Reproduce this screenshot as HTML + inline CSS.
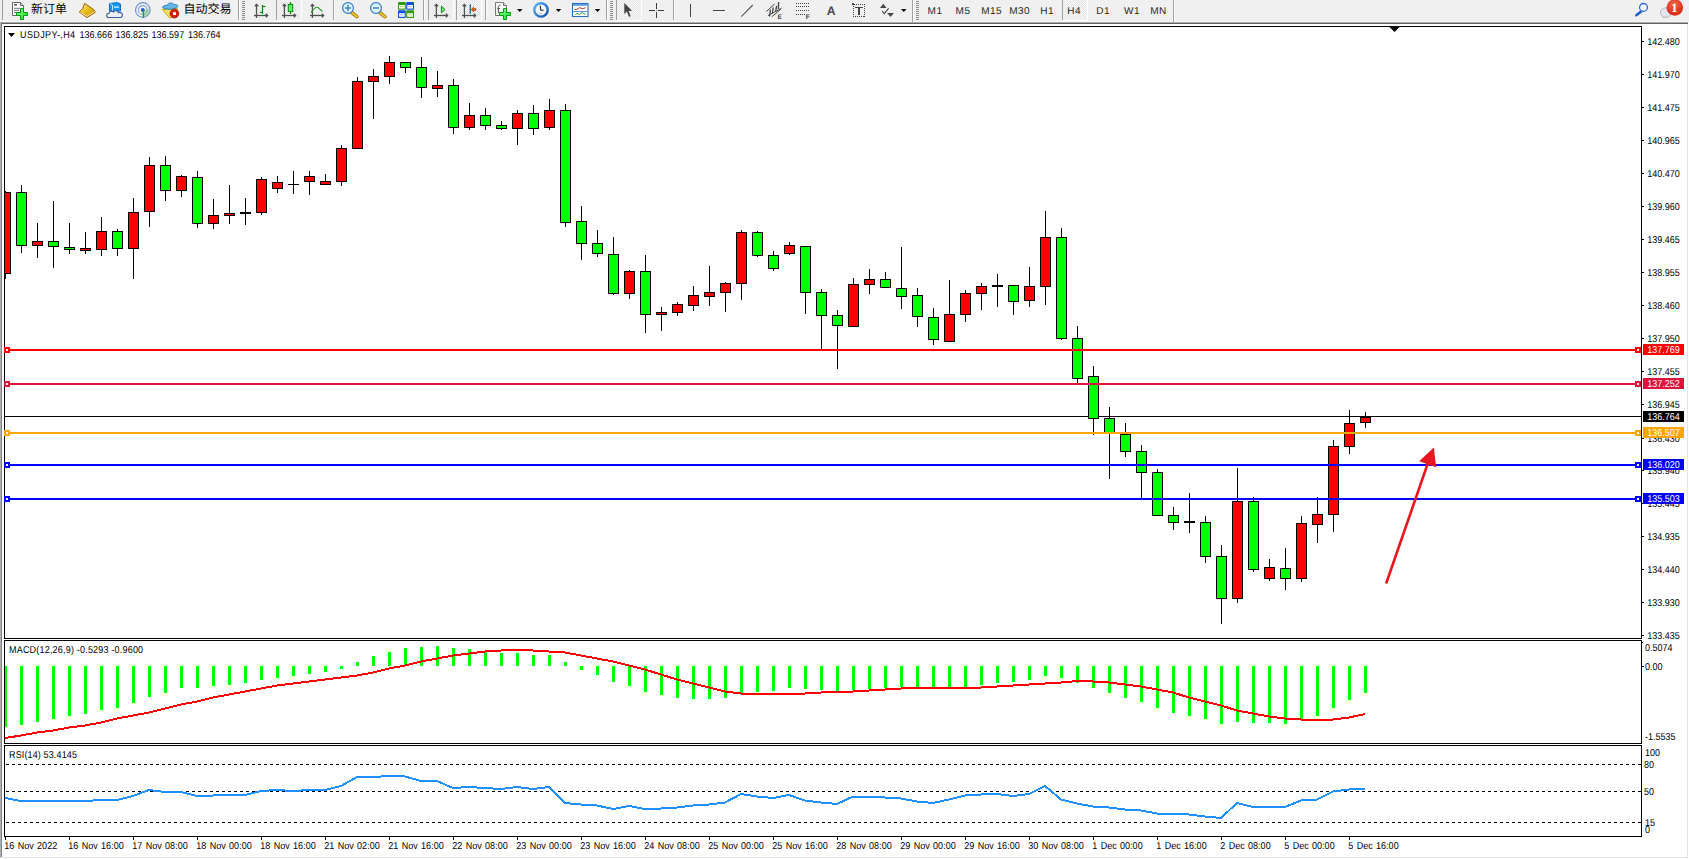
<!DOCTYPE html>
<html><head><meta charset="utf-8"><title>USDJPY-,H4</title>
<style>
html,body{margin:0;padding:0;background:#f0f0f0;width:1689px;height:859px;overflow:hidden}
svg{display:block}
text{white-space:pre;text-rendering:geometricPrecision}
</style></head>
<body>
<svg width="1689" height="859" viewBox="0 0 1689 859">
<rect x="0" y="0" width="1689" height="859" fill="#f0f0f0"/>
<rect x="0" y="21" width="1688" height="1" fill="#f5f5f5"/>
<rect x="0" y="22" width="1688" height="1" fill="#ababab"/>
<rect x="0" y="23" width="1688" height="1" fill="#646464"/>
<rect x="2" y="24" width="1685" height="833" fill="#ffffff"/>
<rect x="0" y="22" width="1" height="836" fill="#b0b0b0"/>
<rect x="1" y="22" width="1" height="836" fill="#828282"/>
<rect x="1687" y="24" width="1" height="834" fill="#e3e3e3"/>
<rect x="0" y="857" width="1688" height="1" fill="#e3e3e3"/>
<rect x="0" y="858" width="1689" height="1" fill="#ffffff"/>
<rect x="1688" y="22" width="1" height="837" fill="#ffffff"/>
<rect x="4" y="26" width="1638" height="1" fill="#000"/>
<rect x="4" y="638" width="1638" height="1" fill="#000"/>
<rect x="4" y="26" width="1" height="613" fill="#000"/>
<rect x="1641" y="26" width="1" height="613" fill="#000"/>
<rect x="4" y="640" width="1638" height="1" fill="#000"/>
<rect x="4" y="743" width="1638" height="1" fill="#000"/>
<rect x="4" y="640" width="1" height="104" fill="#000"/>
<rect x="1641" y="640" width="1" height="104" fill="#000"/>
<rect x="4" y="745" width="1638" height="1" fill="#000"/>
<rect x="4" y="836" width="1638" height="1" fill="#000"/>
<rect x="4" y="745" width="1" height="92" fill="#000"/>
<rect x="1641" y="745" width="1" height="92" fill="#000"/>
<defs><clipPath id="cm"><rect x="5" y="27" width="1636" height="611"/></clipPath><clipPath id="cmacd"><rect x="5" y="641" width="1636" height="102"/></clipPath><clipPath id="crsi"><rect x="5" y="746" width="1636" height="90"/></clipPath></defs>
<g clip-path="url(#cm)" shape-rendering="crispEdges">
<rect x="5" y="416" width="1636" height="1" fill="#000"/>
<rect x="5" y="191" width="1" height="88" fill="#000"/>
<rect x="0" y="192" width="11" height="82" fill="#000"/>
<rect x="1" y="193" width="9" height="80" fill="#ff0000"/>
<rect x="21" y="185" width="1" height="68" fill="#000"/>
<rect x="16" y="192" width="11" height="54" fill="#000"/>
<rect x="17" y="193" width="9" height="52" fill="#00ff00"/>
<rect x="37" y="223" width="1" height="35" fill="#000"/>
<rect x="32" y="241" width="11" height="5" fill="#000"/>
<rect x="33" y="242" width="9" height="3" fill="#ff0000"/>
<rect x="53" y="201" width="1" height="67" fill="#000"/>
<rect x="48" y="241" width="11" height="6" fill="#000"/>
<rect x="49" y="242" width="9" height="4" fill="#00ff00"/>
<rect x="69" y="223" width="1" height="31" fill="#000"/>
<rect x="64" y="247" width="11" height="3" fill="#000"/>
<rect x="65" y="248" width="9" height="1" fill="#00ff00"/>
<rect x="85" y="232" width="1" height="22" fill="#000"/>
<rect x="80" y="248" width="11" height="3" fill="#000"/>
<rect x="81" y="249" width="9" height="1" fill="#ff0000"/>
<rect x="101" y="217" width="1" height="39" fill="#000"/>
<rect x="96" y="231" width="11" height="19" fill="#000"/>
<rect x="97" y="232" width="9" height="17" fill="#ff0000"/>
<rect x="117" y="229" width="1" height="27" fill="#000"/>
<rect x="112" y="231" width="11" height="18" fill="#000"/>
<rect x="113" y="232" width="9" height="16" fill="#00ff00"/>
<rect x="133" y="198" width="1" height="81" fill="#000"/>
<rect x="128" y="212" width="11" height="37" fill="#000"/>
<rect x="129" y="213" width="9" height="35" fill="#ff0000"/>
<rect x="149" y="157" width="1" height="70" fill="#000"/>
<rect x="144" y="165" width="11" height="47" fill="#000"/>
<rect x="145" y="166" width="9" height="45" fill="#ff0000"/>
<rect x="165" y="156" width="1" height="45" fill="#000"/>
<rect x="160" y="165" width="11" height="26" fill="#000"/>
<rect x="161" y="166" width="9" height="24" fill="#00ff00"/>
<rect x="181" y="175" width="1" height="22" fill="#000"/>
<rect x="176" y="176" width="11" height="15" fill="#000"/>
<rect x="177" y="177" width="9" height="13" fill="#ff0000"/>
<rect x="197" y="171" width="1" height="57" fill="#000"/>
<rect x="192" y="177" width="11" height="47" fill="#000"/>
<rect x="193" y="178" width="9" height="45" fill="#00ff00"/>
<rect x="213" y="199" width="1" height="30" fill="#000"/>
<rect x="208" y="215" width="11" height="9" fill="#000"/>
<rect x="209" y="216" width="9" height="7" fill="#ff0000"/>
<rect x="229" y="185" width="1" height="39" fill="#000"/>
<rect x="224" y="213" width="11" height="3" fill="#000"/>
<rect x="225" y="214" width="9" height="1" fill="#ff0000"/>
<rect x="245" y="198" width="1" height="27" fill="#000"/>
<rect x="240" y="212" width="11" height="2" fill="#000"/>
<rect x="261" y="177" width="1" height="38" fill="#000"/>
<rect x="256" y="179" width="11" height="34" fill="#000"/>
<rect x="257" y="180" width="9" height="32" fill="#ff0000"/>
<rect x="277" y="176" width="1" height="17" fill="#000"/>
<rect x="272" y="182" width="11" height="7" fill="#000"/>
<rect x="273" y="183" width="9" height="5" fill="#ff0000"/>
<rect x="293" y="171" width="1" height="23" fill="#000"/>
<rect x="288" y="184" width="11" height="1" fill="#000"/>
<rect x="309" y="171" width="1" height="24" fill="#000"/>
<rect x="304" y="176" width="11" height="6" fill="#000"/>
<rect x="305" y="177" width="9" height="4" fill="#ff0000"/>
<rect x="325" y="174" width="1" height="10" fill="#000"/>
<rect x="320" y="181" width="11" height="4" fill="#000"/>
<rect x="321" y="182" width="9" height="2" fill="#ff0000"/>
<rect x="341" y="145" width="1" height="41" fill="#000"/>
<rect x="336" y="148" width="11" height="34" fill="#000"/>
<rect x="337" y="149" width="9" height="32" fill="#ff0000"/>
<rect x="357" y="77" width="1" height="71" fill="#000"/>
<rect x="352" y="81" width="11" height="68" fill="#000"/>
<rect x="353" y="82" width="9" height="66" fill="#ff0000"/>
<rect x="373" y="69" width="1" height="50" fill="#000"/>
<rect x="368" y="76" width="11" height="6" fill="#000"/>
<rect x="369" y="77" width="9" height="4" fill="#ff0000"/>
<rect x="389" y="56" width="1" height="28" fill="#000"/>
<rect x="384" y="62" width="11" height="15" fill="#000"/>
<rect x="385" y="63" width="9" height="13" fill="#ff0000"/>
<rect x="405" y="62" width="1" height="11" fill="#000"/>
<rect x="400" y="62" width="11" height="6" fill="#000"/>
<rect x="401" y="63" width="9" height="4" fill="#00ff00"/>
<rect x="421" y="57" width="1" height="41" fill="#000"/>
<rect x="416" y="67" width="11" height="21" fill="#000"/>
<rect x="417" y="68" width="9" height="19" fill="#00ff00"/>
<rect x="437" y="71" width="1" height="26" fill="#000"/>
<rect x="432" y="85" width="11" height="4" fill="#000"/>
<rect x="433" y="86" width="9" height="2" fill="#ff0000"/>
<rect x="453" y="79" width="1" height="55" fill="#000"/>
<rect x="448" y="85" width="11" height="43" fill="#000"/>
<rect x="449" y="86" width="9" height="41" fill="#00ff00"/>
<rect x="469" y="103" width="1" height="27" fill="#000"/>
<rect x="464" y="115" width="11" height="13" fill="#000"/>
<rect x="465" y="116" width="9" height="11" fill="#ff0000"/>
<rect x="485" y="108" width="1" height="22" fill="#000"/>
<rect x="480" y="115" width="11" height="11" fill="#000"/>
<rect x="481" y="116" width="9" height="9" fill="#00ff00"/>
<rect x="501" y="121" width="1" height="9" fill="#000"/>
<rect x="496" y="125" width="11" height="4" fill="#000"/>
<rect x="497" y="126" width="9" height="2" fill="#00ff00"/>
<rect x="517" y="110" width="1" height="35" fill="#000"/>
<rect x="512" y="113" width="11" height="16" fill="#000"/>
<rect x="513" y="114" width="9" height="14" fill="#ff0000"/>
<rect x="533" y="105" width="1" height="30" fill="#000"/>
<rect x="528" y="113" width="11" height="16" fill="#000"/>
<rect x="529" y="114" width="9" height="14" fill="#00ff00"/>
<rect x="549" y="99" width="1" height="31" fill="#000"/>
<rect x="544" y="110" width="11" height="18" fill="#000"/>
<rect x="545" y="111" width="9" height="16" fill="#ff0000"/>
<rect x="565" y="104" width="1" height="123" fill="#000"/>
<rect x="560" y="110" width="11" height="113" fill="#000"/>
<rect x="561" y="111" width="9" height="111" fill="#00ff00"/>
<rect x="581" y="206" width="1" height="54" fill="#000"/>
<rect x="576" y="221" width="11" height="23" fill="#000"/>
<rect x="577" y="222" width="9" height="21" fill="#00ff00"/>
<rect x="597" y="230" width="1" height="27" fill="#000"/>
<rect x="592" y="243" width="11" height="11" fill="#000"/>
<rect x="593" y="244" width="9" height="9" fill="#00ff00"/>
<rect x="613" y="237" width="1" height="58" fill="#000"/>
<rect x="608" y="254" width="11" height="40" fill="#000"/>
<rect x="609" y="255" width="9" height="38" fill="#00ff00"/>
<rect x="629" y="270" width="1" height="29" fill="#000"/>
<rect x="624" y="271" width="11" height="23" fill="#000"/>
<rect x="625" y="272" width="9" height="21" fill="#ff0000"/>
<rect x="645" y="255" width="1" height="78" fill="#000"/>
<rect x="640" y="271" width="11" height="44" fill="#000"/>
<rect x="641" y="272" width="9" height="42" fill="#00ff00"/>
<rect x="661" y="307" width="1" height="24" fill="#000"/>
<rect x="656" y="312" width="11" height="3" fill="#000"/>
<rect x="657" y="313" width="9" height="1" fill="#ff0000"/>
<rect x="677" y="302" width="1" height="14" fill="#000"/>
<rect x="672" y="304" width="11" height="9" fill="#000"/>
<rect x="673" y="305" width="9" height="7" fill="#ff0000"/>
<rect x="693" y="286" width="1" height="25" fill="#000"/>
<rect x="688" y="295" width="11" height="11" fill="#000"/>
<rect x="689" y="296" width="9" height="9" fill="#ff0000"/>
<rect x="709" y="266" width="1" height="40" fill="#000"/>
<rect x="704" y="292" width="11" height="5" fill="#000"/>
<rect x="705" y="293" width="9" height="3" fill="#ff0000"/>
<rect x="725" y="282" width="1" height="30" fill="#000"/>
<rect x="720" y="283" width="11" height="10" fill="#000"/>
<rect x="721" y="284" width="9" height="8" fill="#ff0000"/>
<rect x="741" y="230" width="1" height="70" fill="#000"/>
<rect x="736" y="232" width="11" height="52" fill="#000"/>
<rect x="737" y="233" width="9" height="50" fill="#ff0000"/>
<rect x="757" y="231" width="1" height="26" fill="#000"/>
<rect x="752" y="232" width="11" height="24" fill="#000"/>
<rect x="753" y="233" width="9" height="22" fill="#00ff00"/>
<rect x="773" y="251" width="1" height="20" fill="#000"/>
<rect x="768" y="255" width="11" height="14" fill="#000"/>
<rect x="769" y="256" width="9" height="12" fill="#00ff00"/>
<rect x="789" y="242" width="1" height="13" fill="#000"/>
<rect x="784" y="245" width="11" height="9" fill="#000"/>
<rect x="785" y="246" width="9" height="7" fill="#ff0000"/>
<rect x="805" y="246" width="1" height="68" fill="#000"/>
<rect x="800" y="246" width="11" height="47" fill="#000"/>
<rect x="801" y="247" width="9" height="45" fill="#00ff00"/>
<rect x="821" y="289" width="1" height="60" fill="#000"/>
<rect x="816" y="292" width="11" height="24" fill="#000"/>
<rect x="817" y="293" width="9" height="22" fill="#00ff00"/>
<rect x="837" y="310" width="1" height="59" fill="#000"/>
<rect x="832" y="315" width="11" height="11" fill="#000"/>
<rect x="833" y="316" width="9" height="9" fill="#00ff00"/>
<rect x="853" y="278" width="1" height="49" fill="#000"/>
<rect x="848" y="284" width="11" height="43" fill="#000"/>
<rect x="849" y="285" width="9" height="41" fill="#ff0000"/>
<rect x="869" y="269" width="1" height="25" fill="#000"/>
<rect x="864" y="279" width="11" height="6" fill="#000"/>
<rect x="865" y="280" width="9" height="4" fill="#ff0000"/>
<rect x="885" y="272" width="1" height="15" fill="#000"/>
<rect x="880" y="279" width="11" height="9" fill="#000"/>
<rect x="881" y="280" width="9" height="7" fill="#00ff00"/>
<rect x="901" y="247" width="1" height="62" fill="#000"/>
<rect x="896" y="288" width="11" height="9" fill="#000"/>
<rect x="897" y="289" width="9" height="7" fill="#00ff00"/>
<rect x="917" y="288" width="1" height="39" fill="#000"/>
<rect x="912" y="295" width="11" height="22" fill="#000"/>
<rect x="913" y="296" width="9" height="20" fill="#00ff00"/>
<rect x="933" y="308" width="1" height="37" fill="#000"/>
<rect x="928" y="317" width="11" height="23" fill="#000"/>
<rect x="929" y="318" width="9" height="21" fill="#00ff00"/>
<rect x="949" y="280" width="1" height="61" fill="#000"/>
<rect x="944" y="314" width="11" height="28" fill="#000"/>
<rect x="945" y="315" width="9" height="26" fill="#ff0000"/>
<rect x="965" y="290" width="1" height="32" fill="#000"/>
<rect x="960" y="293" width="11" height="22" fill="#000"/>
<rect x="961" y="294" width="9" height="20" fill="#ff0000"/>
<rect x="981" y="283" width="1" height="27" fill="#000"/>
<rect x="976" y="286" width="11" height="8" fill="#000"/>
<rect x="977" y="287" width="9" height="6" fill="#ff0000"/>
<rect x="997" y="274" width="1" height="33" fill="#000"/>
<rect x="992" y="285" width="11" height="2" fill="#000"/>
<rect x="1013" y="285" width="1" height="30" fill="#000"/>
<rect x="1008" y="285" width="11" height="17" fill="#000"/>
<rect x="1009" y="286" width="9" height="15" fill="#00ff00"/>
<rect x="1029" y="267" width="1" height="40" fill="#000"/>
<rect x="1024" y="286" width="11" height="15" fill="#000"/>
<rect x="1025" y="287" width="9" height="13" fill="#ff0000"/>
<rect x="1045" y="211" width="1" height="94" fill="#000"/>
<rect x="1040" y="237" width="11" height="50" fill="#000"/>
<rect x="1041" y="238" width="9" height="48" fill="#ff0000"/>
<rect x="1061" y="228" width="1" height="112" fill="#000"/>
<rect x="1056" y="237" width="11" height="102" fill="#000"/>
<rect x="1057" y="238" width="9" height="100" fill="#00ff00"/>
<rect x="1077" y="326" width="1" height="57" fill="#000"/>
<rect x="1072" y="338" width="11" height="41" fill="#000"/>
<rect x="1073" y="339" width="9" height="39" fill="#00ff00"/>
<rect x="1093" y="366" width="1" height="69" fill="#000"/>
<rect x="1088" y="376" width="11" height="43" fill="#000"/>
<rect x="1089" y="377" width="9" height="41" fill="#00ff00"/>
<rect x="1109" y="407" width="1" height="72" fill="#000"/>
<rect x="1104" y="418" width="11" height="16" fill="#000"/>
<rect x="1105" y="419" width="9" height="14" fill="#00ff00"/>
<rect x="1125" y="423" width="1" height="34" fill="#000"/>
<rect x="1120" y="434" width="11" height="18" fill="#000"/>
<rect x="1121" y="435" width="9" height="16" fill="#00ff00"/>
<rect x="1141" y="445" width="1" height="53" fill="#000"/>
<rect x="1136" y="451" width="11" height="22" fill="#000"/>
<rect x="1137" y="452" width="9" height="20" fill="#00ff00"/>
<rect x="1157" y="469" width="1" height="47" fill="#000"/>
<rect x="1152" y="472" width="11" height="44" fill="#000"/>
<rect x="1153" y="473" width="9" height="42" fill="#00ff00"/>
<rect x="1173" y="507" width="1" height="23" fill="#000"/>
<rect x="1168" y="515" width="11" height="8" fill="#000"/>
<rect x="1169" y="516" width="9" height="6" fill="#00ff00"/>
<rect x="1189" y="493" width="1" height="40" fill="#000"/>
<rect x="1184" y="521" width="11" height="2" fill="#000"/>
<rect x="1205" y="516" width="1" height="47" fill="#000"/>
<rect x="1200" y="522" width="11" height="35" fill="#000"/>
<rect x="1201" y="523" width="9" height="33" fill="#00ff00"/>
<rect x="1221" y="545" width="1" height="79" fill="#000"/>
<rect x="1216" y="556" width="11" height="43" fill="#000"/>
<rect x="1217" y="557" width="9" height="41" fill="#00ff00"/>
<rect x="1237" y="468" width="1" height="135" fill="#000"/>
<rect x="1232" y="501" width="11" height="98" fill="#000"/>
<rect x="1233" y="502" width="9" height="96" fill="#ff0000"/>
<rect x="1253" y="497" width="1" height="75" fill="#000"/>
<rect x="1248" y="501" width="11" height="69" fill="#000"/>
<rect x="1249" y="502" width="9" height="67" fill="#00ff00"/>
<rect x="1269" y="559" width="1" height="22" fill="#000"/>
<rect x="1264" y="567" width="11" height="12" fill="#000"/>
<rect x="1265" y="568" width="9" height="10" fill="#ff0000"/>
<rect x="1285" y="548" width="1" height="42" fill="#000"/>
<rect x="1280" y="568" width="11" height="11" fill="#000"/>
<rect x="1281" y="569" width="9" height="9" fill="#00ff00"/>
<rect x="1301" y="516" width="1" height="66" fill="#000"/>
<rect x="1296" y="523" width="11" height="56" fill="#000"/>
<rect x="1297" y="524" width="9" height="54" fill="#ff0000"/>
<rect x="1317" y="497" width="1" height="46" fill="#000"/>
<rect x="1312" y="514" width="11" height="11" fill="#000"/>
<rect x="1313" y="515" width="9" height="9" fill="#ff0000"/>
<rect x="1333" y="440" width="1" height="92" fill="#000"/>
<rect x="1328" y="446" width="11" height="69" fill="#000"/>
<rect x="1329" y="447" width="9" height="67" fill="#ff0000"/>
<rect x="1349" y="410" width="1" height="44" fill="#000"/>
<rect x="1344" y="423" width="11" height="24" fill="#000"/>
<rect x="1345" y="424" width="9" height="22" fill="#ff0000"/>
<rect x="1365" y="412" width="1" height="16" fill="#000"/>
<rect x="1360" y="417" width="11" height="6" fill="#000"/>
<rect x="1361" y="418" width="9" height="4" fill="#ff0000"/>
</g>
<g shape-rendering="crispEdges">
<rect x="5" y="349" width="1636" height="2" fill="#ff0000"/>
<rect x="4" y="347" width="6" height="6" fill="#ff0000"/>
<rect x="6" y="349" width="2" height="2" fill="#fff"/>
<rect x="1635" y="347" width="6" height="6" fill="#ff0000"/>
<rect x="1637" y="349" width="2" height="2" fill="#fff"/>
<rect x="5" y="383" width="1636" height="2" fill="#dc143c"/>
<rect x="4" y="381" width="6" height="6" fill="#dc143c"/>
<rect x="6" y="383" width="2" height="2" fill="#fff"/>
<rect x="1635" y="381" width="6" height="6" fill="#dc143c"/>
<rect x="1637" y="383" width="2" height="2" fill="#fff"/>
<rect x="5" y="432" width="1636" height="2" fill="#ffa500"/>
<rect x="4" y="430" width="6" height="6" fill="#ffa500"/>
<rect x="6" y="432" width="2" height="2" fill="#fff"/>
<rect x="1635" y="430" width="6" height="6" fill="#ffa500"/>
<rect x="1637" y="432" width="2" height="2" fill="#fff"/>
<rect x="5" y="464" width="1636" height="2" fill="#0000ff"/>
<rect x="4" y="462" width="6" height="6" fill="#0000ff"/>
<rect x="6" y="464" width="2" height="2" fill="#fff"/>
<rect x="1635" y="462" width="6" height="6" fill="#0000ff"/>
<rect x="1637" y="464" width="2" height="2" fill="#fff"/>
<rect x="5" y="498" width="1636" height="2" fill="#0000ff"/>
<rect x="4" y="496" width="6" height="6" fill="#0000ff"/>
<rect x="6" y="498" width="2" height="2" fill="#fff"/>
<rect x="1635" y="496" width="6" height="6" fill="#0000ff"/>
<rect x="1637" y="498" width="2" height="2" fill="#fff"/>
</g>
<g>
<line x1="1386.5" y1="582.5" x2="1429" y2="460" stroke="#e8161e" stroke-width="2.6" stroke-linecap="round"/>
<polygon points="1433.8,447.5 1419.2,461.2 1436.2,467.2" fill="#e8161e"/>
</g>
<polygon points="1389.5,27 1399.5,27 1394.5,32" fill="#000"/>
<polygon points="8,33 15,33 11.5,37" fill="#000"/>
<g font-family="'Liberation Sans', Arial, sans-serif" font-size="10">
<text transform="matrix(0.9,0,0,1,20,38)" fill="#000" letter-spacing="0.42">USDJPY-,H4</text>
<text transform="matrix(0.9,0,0,1,79.6,38)" fill="#000">136.666</text>
<text transform="matrix(0.9,0,0,1,115.6,38)" fill="#000">136.825</text>
<text transform="matrix(0.9,0,0,1,151.6,38)" fill="#000">136.597</text>
<text transform="matrix(0.9,0,0,1,188,38)" fill="#000">136.764</text>
</g>
<g font-family="'Liberation Sans', Arial, sans-serif" font-size="10" fill="#000">
<rect x="1642" y="41" width="2" height="1" fill="#000"/>
<text transform="matrix(0.9,0,0,1,1647.3,45)" fill="#000">142.480</text>
<rect x="1642" y="74" width="2" height="1" fill="#000"/>
<text transform="matrix(0.9,0,0,1,1647.3,78)" fill="#000">141.970</text>
<rect x="1642" y="107" width="2" height="1" fill="#000"/>
<text transform="matrix(0.9,0,0,1,1647.3,111)" fill="#000">141.475</text>
<rect x="1642" y="140" width="2" height="1" fill="#000"/>
<text transform="matrix(0.9,0,0,1,1647.3,144)" fill="#000">140.965</text>
<rect x="1642" y="173" width="2" height="1" fill="#000"/>
<text transform="matrix(0.9,0,0,1,1647.3,177)" fill="#000">140.470</text>
<rect x="1642" y="206" width="2" height="1" fill="#000"/>
<text transform="matrix(0.9,0,0,1,1647.3,210)" fill="#000">139.960</text>
<rect x="1642" y="239" width="2" height="1" fill="#000"/>
<text transform="matrix(0.9,0,0,1,1647.3,243)" fill="#000">139.465</text>
<rect x="1642" y="272" width="2" height="1" fill="#000"/>
<text transform="matrix(0.9,0,0,1,1647.3,276)" fill="#000">138.955</text>
<rect x="1642" y="305" width="2" height="1" fill="#000"/>
<text transform="matrix(0.9,0,0,1,1647.3,309)" fill="#000">138.460</text>
<rect x="1642" y="338" width="2" height="1" fill="#000"/>
<text transform="matrix(0.9,0,0,1,1647.3,342)" fill="#000">137.950</text>
<rect x="1642" y="371" width="2" height="1" fill="#000"/>
<text transform="matrix(0.9,0,0,1,1647.3,375)" fill="#000">137.455</text>
<rect x="1642" y="404" width="2" height="1" fill="#000"/>
<text transform="matrix(0.9,0,0,1,1647.3,408)" fill="#000">136.945</text>
<rect x="1642" y="438" width="2" height="1" fill="#000"/>
<text transform="matrix(0.9,0,0,1,1647.3,442)" fill="#000">136.430</text>
<rect x="1642" y="470" width="2" height="1" fill="#000"/>
<text transform="matrix(0.9,0,0,1,1647.3,474)" fill="#000">135.940</text>
<rect x="1642" y="503" width="2" height="1" fill="#000"/>
<text transform="matrix(0.9,0,0,1,1647.3,507)" fill="#000">135.445</text>
<rect x="1642" y="536" width="2" height="1" fill="#000"/>
<text transform="matrix(0.9,0,0,1,1647.3,540)" fill="#000">134.935</text>
<rect x="1642" y="569" width="2" height="1" fill="#000"/>
<text transform="matrix(0.9,0,0,1,1647.3,573)" fill="#000">134.440</text>
<rect x="1642" y="602" width="2" height="1" fill="#000"/>
<text transform="matrix(0.9,0,0,1,1647.3,606)" fill="#000">133.930</text>
<rect x="1642" y="635" width="2" height="1" fill="#000"/>
<text transform="matrix(0.9,0,0,1,1647.3,639)" fill="#000">133.435</text>
</g>
<g font-family="'Liberation Sans', Arial, sans-serif" font-size="10" fill="#fff">
<rect x="1643" y="344" width="41" height="11" fill="#ff0000" shape-rendering="crispEdges"/>
<text transform="matrix(0.9,0,0,1,1647.3,353)" fill="#fff">137.769</text>
<rect x="1643" y="378" width="41" height="11" fill="#dc143c" shape-rendering="crispEdges"/>
<text transform="matrix(0.9,0,0,1,1647.3,387)" fill="#fff">137.252</text>
<rect x="1643" y="427" width="41" height="11" fill="#ffa500" shape-rendering="crispEdges"/>
<text transform="matrix(0.9,0,0,1,1647.3,436)" fill="#fff">136.507</text>
<rect x="1643" y="459" width="41" height="11" fill="#0000ff" shape-rendering="crispEdges"/>
<text transform="matrix(0.9,0,0,1,1647.3,468)" fill="#fff">136.020</text>
<rect x="1643" y="493" width="41" height="11" fill="#0000ff" shape-rendering="crispEdges"/>
<text transform="matrix(0.9,0,0,1,1647.3,502)" fill="#fff">135.503</text>
<rect x="1643" y="411" width="41" height="11" fill="#000" shape-rendering="crispEdges"/>
<text transform="matrix(0.9,0,0,1,1647.3,420)" fill="#fff">136.764</text>
</g>
<g clip-path="url(#cmacd)" shape-rendering="crispEdges">
<rect x="4" y="666" width="3" height="61" fill="#00ff00"/>
<rect x="20" y="666" width="3" height="59" fill="#00ff00"/>
<rect x="36" y="666" width="3" height="56" fill="#00ff00"/>
<rect x="52" y="666" width="3" height="53" fill="#00ff00"/>
<rect x="68" y="666" width="3" height="50" fill="#00ff00"/>
<rect x="84" y="666" width="3" height="48" fill="#00ff00"/>
<rect x="100" y="666" width="3" height="44" fill="#00ff00"/>
<rect x="116" y="666" width="3" height="42" fill="#00ff00"/>
<rect x="132" y="666" width="3" height="37" fill="#00ff00"/>
<rect x="148" y="666" width="3" height="31" fill="#00ff00"/>
<rect x="164" y="666" width="3" height="27" fill="#00ff00"/>
<rect x="180" y="666" width="3" height="22" fill="#00ff00"/>
<rect x="196" y="666" width="3" height="22" fill="#00ff00"/>
<rect x="212" y="666" width="3" height="20" fill="#00ff00"/>
<rect x="228" y="666" width="3" height="19" fill="#00ff00"/>
<rect x="244" y="666" width="3" height="17" fill="#00ff00"/>
<rect x="260" y="666" width="3" height="14" fill="#00ff00"/>
<rect x="276" y="666" width="3" height="12" fill="#00ff00"/>
<rect x="292" y="666" width="3" height="10" fill="#00ff00"/>
<rect x="308" y="666" width="3" height="8" fill="#00ff00"/>
<rect x="324" y="666" width="3" height="6" fill="#00ff00"/>
<rect x="340" y="666" width="3" height="3" fill="#00ff00"/>
<rect x="356" y="662" width="3" height="4" fill="#00ff00"/>
<rect x="372" y="656" width="3" height="10" fill="#00ff00"/>
<rect x="388" y="652" width="3" height="14" fill="#00ff00"/>
<rect x="404" y="648" width="3" height="18" fill="#00ff00"/>
<rect x="420" y="647" width="3" height="19" fill="#00ff00"/>
<rect x="436" y="646" width="3" height="20" fill="#00ff00"/>
<rect x="452" y="648" width="3" height="18" fill="#00ff00"/>
<rect x="468" y="649" width="3" height="17" fill="#00ff00"/>
<rect x="484" y="652" width="3" height="14" fill="#00ff00"/>
<rect x="500" y="653" width="3" height="13" fill="#00ff00"/>
<rect x="516" y="653" width="3" height="13" fill="#00ff00"/>
<rect x="532" y="655" width="3" height="11" fill="#00ff00"/>
<rect x="548" y="655" width="3" height="11" fill="#00ff00"/>
<rect x="564" y="662" width="3" height="4" fill="#00ff00"/>
<rect x="580" y="666" width="3" height="4" fill="#00ff00"/>
<rect x="596" y="666" width="3" height="9" fill="#00ff00"/>
<rect x="612" y="666" width="3" height="16" fill="#00ff00"/>
<rect x="628" y="666" width="3" height="20" fill="#00ff00"/>
<rect x="644" y="666" width="3" height="26" fill="#00ff00"/>
<rect x="660" y="666" width="3" height="29" fill="#00ff00"/>
<rect x="676" y="666" width="3" height="32" fill="#00ff00"/>
<rect x="692" y="666" width="3" height="33" fill="#00ff00"/>
<rect x="708" y="666" width="3" height="33" fill="#00ff00"/>
<rect x="724" y="666" width="3" height="32" fill="#00ff00"/>
<rect x="740" y="666" width="3" height="28" fill="#00ff00"/>
<rect x="756" y="666" width="3" height="26" fill="#00ff00"/>
<rect x="772" y="666" width="3" height="25" fill="#00ff00"/>
<rect x="788" y="666" width="3" height="22" fill="#00ff00"/>
<rect x="804" y="666" width="3" height="23" fill="#00ff00"/>
<rect x="820" y="666" width="3" height="24" fill="#00ff00"/>
<rect x="836" y="666" width="3" height="25" fill="#00ff00"/>
<rect x="852" y="666" width="3" height="24" fill="#00ff00"/>
<rect x="868" y="666" width="3" height="23" fill="#00ff00"/>
<rect x="884" y="666" width="3" height="22" fill="#00ff00"/>
<rect x="900" y="666" width="3" height="21" fill="#00ff00"/>
<rect x="916" y="666" width="3" height="21" fill="#00ff00"/>
<rect x="932" y="666" width="3" height="21" fill="#00ff00"/>
<rect x="948" y="666" width="3" height="21" fill="#00ff00"/>
<rect x="964" y="666" width="3" height="21" fill="#00ff00"/>
<rect x="980" y="666" width="3" height="19" fill="#00ff00"/>
<rect x="996" y="666" width="3" height="17" fill="#00ff00"/>
<rect x="1012" y="666" width="3" height="16" fill="#00ff00"/>
<rect x="1028" y="666" width="3" height="14" fill="#00ff00"/>
<rect x="1044" y="666" width="3" height="10" fill="#00ff00"/>
<rect x="1060" y="666" width="3" height="12" fill="#00ff00"/>
<rect x="1076" y="666" width="3" height="17" fill="#00ff00"/>
<rect x="1092" y="666" width="3" height="22" fill="#00ff00"/>
<rect x="1108" y="666" width="3" height="27" fill="#00ff00"/>
<rect x="1124" y="666" width="3" height="32" fill="#00ff00"/>
<rect x="1140" y="666" width="3" height="36" fill="#00ff00"/>
<rect x="1156" y="666" width="3" height="42" fill="#00ff00"/>
<rect x="1172" y="666" width="3" height="47" fill="#00ff00"/>
<rect x="1188" y="666" width="3" height="50" fill="#00ff00"/>
<rect x="1204" y="666" width="3" height="53" fill="#00ff00"/>
<rect x="1220" y="666" width="3" height="58" fill="#00ff00"/>
<rect x="1236" y="666" width="3" height="56" fill="#00ff00"/>
<rect x="1252" y="666" width="3" height="57" fill="#00ff00"/>
<rect x="1268" y="666" width="3" height="57" fill="#00ff00"/>
<rect x="1284" y="666" width="3" height="58" fill="#00ff00"/>
<rect x="1300" y="666" width="3" height="53" fill="#00ff00"/>
<rect x="1316" y="666" width="3" height="50" fill="#00ff00"/>
<rect x="1332" y="666" width="3" height="42" fill="#00ff00"/>
<rect x="1348" y="666" width="3" height="34" fill="#00ff00"/>
<rect x="1364" y="666" width="3" height="27" fill="#00ff00"/>
<polyline points="5,738.0 21,735.5 37,732.5 53,730.5 69,727.5 85,725.5 101,722.5 117,718.5 133,715.5 149,712.5 165,708.5 181,704.5 197,701.5 213,697.5 229,694.5 245,691.5 261,688.5 277,685.5 293,683.5 309,681.5 325,679.5 341,677.5 357,675.5 373,672.5 389,668.5 405,665.5 421,661.5 437,658.5 453,655.5 469,653.5 485,651.5 501,650.5 517,650.0 533,650.5 549,651.5 565,652.5 581,655.5 597,658.5 613,661.5 629,665.5 645,669.5 661,674.5 677,679.5 693,683.5 709,687.5 725,691.5 741,693.5 757,694.0 773,694.0 789,694.0 805,693.5 821,692.5 837,692.0 853,691.5 869,690.5 885,689.5 901,688.5 917,688.0 933,688.0 949,688.0 965,688.0 981,687.5 997,686.5 1013,685.5 1029,684.5 1045,683.5 1061,682.5 1077,681.0 1093,681.5 1109,682.5 1125,684.5 1141,686.5 1157,689.5 1173,692.5 1189,697.5 1205,701.5 1221,705.5 1237,710.5 1253,713.5 1269,716.5 1285,718.5 1301,719.5 1317,720.0 1333,719.5 1349,717.5 1365,714.0" fill="none" stroke="#ff0000" stroke-width="2"/>
</g>
<g font-family="'Liberation Sans', Arial, sans-serif" font-size="10">
<text transform="matrix(0.9,0,0,1,9,653)" fill="#000" letter-spacing="0.22">MACD(12,26,9) -0.5293 -0.9600</text>
</g>
<g font-family="'Liberation Sans', Arial, sans-serif" font-size="10" fill="#000">
<text transform="matrix(0.9,0,0,1,1645,651)" fill="#000">0.5074</text>
<text transform="matrix(0.9,0,0,1,1645,670)" fill="#000">0.00</text>
<text transform="matrix(0.9,0,0,1,1645,740)" fill="#000">-1.5535</text>
<rect x="1642" y="642" width="1" height="1" fill="#000"/>
<rect x="1642" y="666" width="2" height="1" fill="#000"/>
</g>
<g clip-path="url(#crsi)">
<g shape-rendering="crispEdges" stroke="#000" stroke-width="1" stroke-dasharray="3 3">
<line x1="6" y1="764.5" x2="1641" y2="764.5"/>
<line x1="6" y1="791.5" x2="1641" y2="791.5"/>
<line x1="6" y1="822.5" x2="1641" y2="822.5"/>
</g>
<polyline points="5,798 21,801 37,801 53,801 69,801 85,801 101,800 117,800 133,796 149,790 165,792 181,792 197,796 213,795.5 229,795 245,795 261,791 277,790 293,791 309,790 325,790 341,786 357,777 373,777 389,776 405,776.5 421,781 437,781 453,788 469,787 485,788 501,789 517,787 533,789 549,787 565,803 581,804.5 597,805.5 613,809 629,806 645,809 661,808.5 677,807.5 693,805.5 709,804.5 725,802.5 741,794 757,796.5 773,798 789,795 805,800.5 821,802.5 837,804 853,796.5 869,796.5 885,797.5 901,798.5 917,801.5 933,803 949,799.5 965,795.5 981,794.5 997,794 1013,796 1029,794 1045,786 1061,799.5 1077,803.5 1093,806.5 1109,807.5 1125,809.5 1141,810.5 1157,813.5 1173,814 1189,814.5 1205,816.5 1221,818 1237,803 1253,807 1269,807 1285,807 1301,800.5 1317,799.5 1333,791.5 1349,789.5 1365,789" fill="none" stroke="#1e90ff" stroke-width="2" shape-rendering="crispEdges"/>
</g>
<g font-family="'Liberation Sans', Arial, sans-serif" font-size="10">
<text transform="matrix(0.9,0,0,1,9,758)" fill="#000" letter-spacing="0.15">RSI(14) 53.4145</text>
</g>
<g font-family="'Liberation Sans', Arial, sans-serif" font-size="10" fill="#000">
<text transform="matrix(0.9,0,0,1,1645,756)" fill="#000">100</text>
<text transform="matrix(0.9,0,0,1,1644,768)" fill="#000">80</text>
<text transform="matrix(0.9,0,0,1,1644,795)" fill="#000">50</text>
<text transform="matrix(0.9,0,0,1,1645,826)" fill="#000">15</text>
<text transform="matrix(0.9,0,0,1,1645,833)" fill="#000">0</text>
</g>
<g font-family="'Liberation Sans', Arial, sans-serif" font-size="10" fill="#000">
<rect x="5" y="837" width="1" height="3" fill="#000"/>
<text transform="matrix(0.9,0,0,1,4.3,849)" fill="#000" word-spacing="1">16 Nov 2022</text>
<rect x="69" y="837" width="1" height="3" fill="#000"/>
<text transform="matrix(0.9,0,0,1,68.3,849)" fill="#000" word-spacing="1">16 Nov 16:00</text>
<rect x="133" y="837" width="1" height="3" fill="#000"/>
<text transform="matrix(0.9,0,0,1,132.3,849)" fill="#000" word-spacing="1">17 Nov 08:00</text>
<rect x="197" y="837" width="1" height="3" fill="#000"/>
<text transform="matrix(0.9,0,0,1,196.3,849)" fill="#000" word-spacing="1">18 Nov 00:00</text>
<rect x="261" y="837" width="1" height="3" fill="#000"/>
<text transform="matrix(0.9,0,0,1,260.3,849)" fill="#000" word-spacing="1">18 Nov 16:00</text>
<rect x="325" y="837" width="1" height="3" fill="#000"/>
<text transform="matrix(0.9,0,0,1,324.3,849)" fill="#000" word-spacing="1">21 Nov 02:00</text>
<rect x="389" y="837" width="1" height="3" fill="#000"/>
<text transform="matrix(0.9,0,0,1,388.3,849)" fill="#000" word-spacing="1">21 Nov 16:00</text>
<rect x="453" y="837" width="1" height="3" fill="#000"/>
<text transform="matrix(0.9,0,0,1,452.3,849)" fill="#000" word-spacing="1">22 Nov 08:00</text>
<rect x="517" y="837" width="1" height="3" fill="#000"/>
<text transform="matrix(0.9,0,0,1,516.3,849)" fill="#000" word-spacing="1">23 Nov 00:00</text>
<rect x="581" y="837" width="1" height="3" fill="#000"/>
<text transform="matrix(0.9,0,0,1,580.3,849)" fill="#000" word-spacing="1">23 Nov 16:00</text>
<rect x="645" y="837" width="1" height="3" fill="#000"/>
<text transform="matrix(0.9,0,0,1,644.3,849)" fill="#000" word-spacing="1">24 Nov 08:00</text>
<rect x="709" y="837" width="1" height="3" fill="#000"/>
<text transform="matrix(0.9,0,0,1,708.3,849)" fill="#000" word-spacing="1">25 Nov 00:00</text>
<rect x="773" y="837" width="1" height="3" fill="#000"/>
<text transform="matrix(0.9,0,0,1,772.3,849)" fill="#000" word-spacing="1">25 Nov 16:00</text>
<rect x="837" y="837" width="1" height="3" fill="#000"/>
<text transform="matrix(0.9,0,0,1,836.3,849)" fill="#000" word-spacing="1">28 Nov 08:00</text>
<rect x="901" y="837" width="1" height="3" fill="#000"/>
<text transform="matrix(0.9,0,0,1,900.3,849)" fill="#000" word-spacing="1">29 Nov 00:00</text>
<rect x="965" y="837" width="1" height="3" fill="#000"/>
<text transform="matrix(0.9,0,0,1,964.3,849)" fill="#000" word-spacing="1">29 Nov 16:00</text>
<rect x="1029" y="837" width="1" height="3" fill="#000"/>
<text transform="matrix(0.9,0,0,1,1028.3,849)" fill="#000" word-spacing="1">30 Nov 08:00</text>
<rect x="1093" y="837" width="1" height="3" fill="#000"/>
<text transform="matrix(0.9,0,0,1,1092.3,849)" fill="#000" word-spacing="1">1 Dec 00:00</text>
<rect x="1157" y="837" width="1" height="3" fill="#000"/>
<text transform="matrix(0.9,0,0,1,1156.3,849)" fill="#000" word-spacing="1">1 Dec 16:00</text>
<rect x="1221" y="837" width="1" height="3" fill="#000"/>
<text transform="matrix(0.9,0,0,1,1220.3,849)" fill="#000" word-spacing="1">2 Dec 08:00</text>
<rect x="1285" y="837" width="1" height="3" fill="#000"/>
<text transform="matrix(0.9,0,0,1,1284.3,849)" fill="#000" word-spacing="1">5 Dec 00:00</text>
<rect x="1349" y="837" width="1" height="3" fill="#000"/>
<text transform="matrix(0.9,0,0,1,1348.3,849)" fill="#000" word-spacing="1">5 Dec 16:00</text>
</g>
<defs><pattern id="chk" width="2" height="2" patternUnits="userSpaceOnUse"><rect width="2" height="2" fill="#f7f7f7"/><rect width="1" height="1" fill="#e6e6e6"/><rect x="1" y="1" width="1" height="1" fill="#e6e6e6"/></pattern><linearGradient id="gplus" x1="0" y1="0" x2="1" y2="1"><stop offset="0" stop-color="#9dff9d"/><stop offset="1" stop-color="#00e81a"/></linearGradient><linearGradient id="gold" x1="0" y1="0" x2="1" y2="1"><stop offset="0" stop-color="#fff1a0"/><stop offset="0.5" stop-color="#e9b915"/><stop offset="1" stop-color="#c98f10"/></linearGradient><radialGradient id="badge" cx="0.45" cy="0.3" r="0.8"><stop offset="0" stop-color="#f06a4a"/><stop offset="1" stop-color="#d21a08"/></radialGradient><linearGradient id="clockg" x1="0" y1="0" x2="1" y2="1"><stop offset="0" stop-color="#5fb4ff"/><stop offset="1" stop-color="#0a4fb0"/></linearGradient></defs>
<g shape-rendering="crispEdges">
<rect x="2" y="0" width="1" height="20" fill="#9a9a9a"/>
<rect x="238" y="0" width="1" height="20" fill="#a0a0a0"/>
<rect x="239" y="0" width="1" height="20" fill="#ffffff" opacity="0.7"/>
<rect x="242" y="1" width="3" height="1" fill="#8a8a8a"/>
<rect x="242" y="3" width="3" height="1" fill="#8a8a8a"/>
<rect x="242" y="5" width="3" height="1" fill="#8a8a8a"/>
<rect x="242" y="7" width="3" height="1" fill="#8a8a8a"/>
<rect x="242" y="9" width="3" height="1" fill="#8a8a8a"/>
<rect x="242" y="11" width="3" height="1" fill="#8a8a8a"/>
<rect x="242" y="13" width="3" height="1" fill="#8a8a8a"/>
<rect x="242" y="15" width="3" height="1" fill="#8a8a8a"/>
<rect x="242" y="17" width="3" height="1" fill="#8a8a8a"/>
<rect x="242" y="19" width="3" height="1" fill="#8a8a8a"/>
<rect x="276" y="0" width="1" height="20" fill="#a0a0a0"/>
<rect x="277" y="0" width="1" height="20" fill="#ffffff" opacity="0.7"/>
<rect x="277" y="0" width="24" height="20" fill="url(#chk)"/>
<rect x="301" y="0" width="1" height="21" fill="#ffffff"/>
<rect x="276" y="20" width="26" height="1" fill="#ffffff"/>
<rect x="333" y="0" width="1" height="20" fill="#a0a0a0"/>
<rect x="334" y="0" width="1" height="20" fill="#ffffff" opacity="0.7"/>
<rect x="423" y="0" width="1" height="20" fill="#a0a0a0"/>
<rect x="424" y="0" width="1" height="20" fill="#ffffff" opacity="0.7"/>
<rect x="428" y="0" width="1" height="20" fill="#a0a0a0"/>
<rect x="429" y="0" width="1" height="20" fill="#ffffff" opacity="0.7"/>
<rect x="429" y="0" width="24" height="20" fill="url(#chk)"/>
<rect x="453" y="0" width="1" height="21" fill="#ffffff"/>
<rect x="428" y="20" width="26" height="1" fill="#ffffff"/>
<rect x="456" y="0" width="1" height="20" fill="#a0a0a0"/>
<rect x="457" y="0" width="1" height="20" fill="#ffffff" opacity="0.7"/>
<rect x="457" y="0" width="24" height="20" fill="url(#chk)"/>
<rect x="481" y="0" width="1" height="21" fill="#ffffff"/>
<rect x="456" y="20" width="26" height="1" fill="#ffffff"/>
<rect x="485" y="0" width="1" height="20" fill="#a0a0a0"/>
<rect x="486" y="0" width="1" height="20" fill="#ffffff" opacity="0.7"/>
<rect x="606" y="0" width="1" height="20" fill="#a0a0a0"/>
<rect x="607" y="0" width="1" height="20" fill="#ffffff" opacity="0.7"/>
<rect x="610" y="1" width="3" height="1" fill="#8a8a8a"/>
<rect x="610" y="3" width="3" height="1" fill="#8a8a8a"/>
<rect x="610" y="5" width="3" height="1" fill="#8a8a8a"/>
<rect x="610" y="7" width="3" height="1" fill="#8a8a8a"/>
<rect x="610" y="9" width="3" height="1" fill="#8a8a8a"/>
<rect x="610" y="11" width="3" height="1" fill="#8a8a8a"/>
<rect x="610" y="13" width="3" height="1" fill="#8a8a8a"/>
<rect x="610" y="15" width="3" height="1" fill="#8a8a8a"/>
<rect x="610" y="17" width="3" height="1" fill="#8a8a8a"/>
<rect x="610" y="19" width="3" height="1" fill="#8a8a8a"/>
<rect x="616" y="0" width="1" height="20" fill="#a0a0a0"/>
<rect x="617" y="0" width="1" height="20" fill="#ffffff" opacity="0.7"/>
<rect x="617" y="0" width="24" height="20" fill="url(#chk)"/>
<rect x="641" y="0" width="1" height="21" fill="#ffffff"/>
<rect x="616" y="20" width="26" height="1" fill="#ffffff"/>
<rect x="673" y="0" width="1" height="20" fill="#a0a0a0"/>
<rect x="674" y="0" width="1" height="20" fill="#ffffff" opacity="0.7"/>
<rect x="912" y="0" width="1" height="22" fill="#a0a0a0"/>
<rect x="913" y="0" width="1" height="22" fill="#ffffff" opacity="0.7"/>
<rect x="916" y="1" width="3" height="1" fill="#8a8a8a"/>
<rect x="916" y="3" width="3" height="1" fill="#8a8a8a"/>
<rect x="916" y="5" width="3" height="1" fill="#8a8a8a"/>
<rect x="916" y="7" width="3" height="1" fill="#8a8a8a"/>
<rect x="916" y="9" width="3" height="1" fill="#8a8a8a"/>
<rect x="916" y="11" width="3" height="1" fill="#8a8a8a"/>
<rect x="916" y="13" width="3" height="1" fill="#8a8a8a"/>
<rect x="916" y="15" width="3" height="1" fill="#8a8a8a"/>
<rect x="916" y="17" width="3" height="1" fill="#8a8a8a"/>
<rect x="916" y="19" width="3" height="1" fill="#8a8a8a"/>
<rect x="1062" y="0" width="1" height="20" fill="#a0a0a0"/>
<rect x="1063" y="0" width="1" height="20" fill="#ffffff" opacity="0.7"/>
<rect x="1063" y="0" width="24" height="20" fill="url(#chk)"/>
<rect x="1087" y="0" width="1" height="21" fill="#ffffff"/>
<rect x="1062" y="20" width="26" height="1" fill="#ffffff"/>
<rect x="1173" y="0" width="1" height="22" fill="#a0a0a0"/>
<rect x="1174" y="0" width="1" height="22" fill="#ffffff" opacity="0.7"/>
</g>
<g><path d="M12.5,2.5 H20.5 L23.5,5.5 V15.5 H12.5 Z" fill="#fff" stroke="#666" stroke-width="1"/><path d="M20.5,2.5 V5.5 H23.5" fill="#ddd" stroke="#666" stroke-width="1"/><rect x="14" y="4" width="3" height="1.6" fill="#666"/><rect x="14" y="7.8" width="6" height="1" fill="#777"/><rect x="14" y="9.9" width="5" height="1" fill="#777"/><rect x="14" y="12" width="4" height="1" fill="#777"/><path d="M20.5,8.5 H23.5 V12.5 H27.5 V15.5 H23.5 V19.5 H20.5 V15.5 H16.5 V12.5 H20.5 Z" fill="url(#gplus)" stroke="#079a10" stroke-width="1"/></g>
<text x="31" y="12.9" font-family="'Liberation Sans','Noto Sans CJK SC','WenQuanYi Zen Hei',sans-serif" font-size="12" fill="#000">新订单</text>
<path d="M84.6,3.4 L93.8,9.6 L95.2,12.3 L87,17.6 L79.3,12 L82.6,8.6 Z" fill="url(#gold)" stroke="#9a6208" stroke-width="1"/><path d="M80.5,12.2 L87,16.4 L94.5,11.4" fill="none" stroke="#f5e3a0" stroke-width="1"/>
<path d="M109.5,3.5 L117.5,2.5 L120.5,4 L120.5,11 L109.5,11 Z" fill="#1696f0" stroke="#0d6fd0" stroke-width="1"/><path d="M110,3.5 L112.5,5 L112.5,11" fill="none" stroke="#bfe6ff" stroke-width="1"/><rect x="114" y="6.5" width="5" height="1.2" fill="#e8f6ff"/><path d="M108.5,17.5 C106,17.5 106,13.3 109,13.3 C109.5,11 112.5,10.6 113.5,12 C114.5,10 118,10.5 118.3,12.6 C121,11.8 123.5,14 122,16.2 C121.6,17.2 121,17.5 120,17.5 Z" fill="#eef1f8" stroke="#3d5a92" stroke-width="1.1"/>
<g fill="none"><circle cx="142.8" cy="10" r="7.3" stroke="#5a82d6" stroke-width="1.2" opacity="0.85"/><circle cx="142.8" cy="10" r="4.4" stroke="#6a90d8" stroke-width="1.1" opacity="0.8"/><path d="M142.8,10 L142.8,17.3 A7.3,7.3 0 0 0 150,9 Z" fill="#7cc47c" opacity="0.55" stroke="none"/><circle cx="142.8" cy="10" r="1.9" fill="#1f55d0" stroke="none"/><line x1="143.4" y1="10" x2="143.4" y2="17.8" stroke="#1aa01a" stroke-width="1.3"/></g>
<path d="M162.5,9.5 L170.5,9 L177.5,8.5 L176,13 L171,18 L169,17.5 Z" fill="#f8e06a" stroke="#c9a000" stroke-width="0.9"/><path d="M162.5,7.5 C162.5,5.5 166,5.5 167.5,5.2 C168,2.6 172.5,2.2 174,4.5 C176.5,4.3 178.5,5.2 177.5,7 C175.5,9.5 165,10 162.5,7.5 Z" fill="#66b6e8" stroke="#2a86b8" stroke-width="1"/><circle cx="174.4" cy="13.6" r="4.4" fill="#d4200c" stroke="#a81406" stroke-width="0.8"/><rect x="173" y="12.2" width="3" height="2.8" fill="#fff"/>
<text x="183.5" y="12.9" font-family="'Liberation Sans','Noto Sans CJK SC','WenQuanYi Zen Hei',sans-serif" font-size="12" fill="#000">自动交易</text>
<g stroke="#505050" stroke-width="1.3" fill="none"><line x1="256.5" y1="4.5" x2="256.5" y2="18"/><line x1="254" y1="15.5" x2="267.5" y2="15.5"/><polyline points="254.8,6.2 256.5,4.4 258.2,6.2"/><polyline points="265.8,13.8 267.6,15.5 265.8,17.2"/></g>
<g stroke="#0c8a0c" stroke-width="1.2" fill="none"><line x1="262.5" y1="5" x2="262.5" y2="14"/><line x1="262.5" y1="6.5" x2="265.5" y2="6.5"/><line x1="259.8" y1="12.4" x2="262.5" y2="12.4"/></g>
<g stroke="#505050" stroke-width="1.3" fill="none"><line x1="284.4" y1="4.5" x2="284.4" y2="18"/><line x1="282" y1="15.5" x2="295.5" y2="15.5"/><polyline points="282.7,6.2 284.4,4.4 286.09999999999997,6.2"/><polyline points="293.8,13.8 295.6,15.5 293.8,17.2"/></g>
<line x1="290.5" y1="2" x2="290.5" y2="14" stroke="#0c8a0c" stroke-width="1.2"/><rect x="288.3" y="4.4" width="4.4" height="7.2" fill="#5cf06a" stroke="#0c8a0c" stroke-width="1"/>
<g stroke="#505050" stroke-width="1.3" fill="none"><line x1="312.4" y1="4.5" x2="312.4" y2="18"/><line x1="310" y1="15.5" x2="323.5" y2="15.5"/><polyline points="310.7,6.2 312.4,4.4 314.09999999999997,6.2"/><polyline points="321.8,13.8 323.6,15.5 321.8,17.2"/></g>
<path d="M311,12.6 C313.5,9 315.5,7 317.2,7.3 C319,7.6 320.5,10.5 322.6,11.2" fill="none" stroke="#1a9a1a" stroke-width="1.1"/>
<line x1="351.8" y1="12.6" x2="357" y2="16.8" stroke="#9c6a00" stroke-width="3.4" stroke-linecap="round"/><line x1="351.8" y1="12.6" x2="357" y2="16.8" stroke="#f0cc30" stroke-width="1.8" stroke-linecap="round"/><circle cx="348" cy="8" r="5.4" fill="#dcf2ff" stroke="#3a78c8" stroke-width="1.2"/>
<rect x="345" y="7.2" width="6" height="1.6" fill="#4c8cb8"/>
<rect x="347.2" y="4.8" width="1.6" height="6.4" fill="#4c8cb8"/>
<line x1="379.8" y1="12.6" x2="385" y2="16.8" stroke="#9c6a00" stroke-width="3.4" stroke-linecap="round"/><line x1="379.8" y1="12.6" x2="385" y2="16.8" stroke="#f0cc30" stroke-width="1.8" stroke-linecap="round"/><circle cx="376" cy="8" r="5.4" fill="#dcf2ff" stroke="#3a78c8" stroke-width="1.2"/>
<rect x="373" y="7.2" width="6" height="1.6" fill="#4c8cb8"/>
<rect x="398" y="2" width="7.8" height="7.8" rx="0.8" fill="#2f9a12"/><rect x="399.1" y="5" width="5.6" height="3.6" fill="#fff"/><rect x="400" y="6.2" width="3.6" height="0.9" fill="#9ad48a"/>
<rect x="406.2" y="2" width="7.8" height="7.8" rx="0.8" fill="#1452d2"/><rect x="407.3" y="5" width="5.6" height="3.6" fill="#fff"/><rect x="408.2" y="6.2" width="3.6" height="0.9" fill="#9ab4ee"/>
<rect x="398" y="10.2" width="7.8" height="7.8" rx="0.8" fill="#1452d2"/><rect x="399.1" y="13.2" width="5.6" height="3.6" fill="#fff"/><rect x="400" y="14.399999999999999" width="3.6" height="0.9" fill="#9ab4ee"/>
<rect x="406.2" y="10.2" width="7.8" height="7.8" rx="0.8" fill="#2f9a12"/><rect x="407.3" y="13.2" width="5.6" height="3.6" fill="#fff"/><rect x="408.2" y="14.399999999999999" width="3.6" height="0.9" fill="#9ad48a"/>
<g stroke="#505050" stroke-width="1.3" fill="none"><line x1="436.4" y1="4.5" x2="436.4" y2="18"/><line x1="434" y1="15.5" x2="447.5" y2="15.5"/><polyline points="434.7,6.2 436.4,4.4 438.09999999999997,6.2"/><polyline points="445.8,13.8 447.6,15.5 445.8,17.2"/></g>
<polygon points="441.4,6.2 445,9.5 441.4,12.8" fill="#6cf27c" stroke="#0c8a0c" stroke-width="1"/>
<g stroke="#505050" stroke-width="1.3" fill="none"><line x1="464.4" y1="4.5" x2="464.4" y2="18"/><line x1="462" y1="15.5" x2="475.5" y2="15.5"/><polyline points="462.7,6.2 464.4,4.4 466.09999999999997,6.2"/><polyline points="473.8,13.8 475.6,15.5 473.8,17.2"/></g>
<line x1="470.3" y1="4.3" x2="470.3" y2="13.8" stroke="#17628f" stroke-width="1.3"/><path d="M471.2,9.5 L473.6,7.2 L473.6,8.7 L475.8,8.7 L475.8,10.3 L473.6,10.3 L473.6,11.8 Z" fill="#f26a10" stroke="#9a2a00" stroke-width="0.7"/>
<path d="M495.5,2.5 H503.5 L506.5,5.5 V15.5 H495.5 Z" fill="#fff" stroke="#777" stroke-width="1"/><path d="M503.5,2.5 V5.5 H506.5" fill="#ddd" stroke="#777" stroke-width="1"/><path d="M500.5,5 C499,5 498.3,6 498.3,7.5 L498.3,13" fill="none" stroke="#333" stroke-width="0.9"/><line x1="497.5" y1="8.5" x2="500" y2="8.5" stroke="#333" stroke-width="0.8"/><path d="M503.5,8.5 H506.5 V12.5 H510.5 V15.5 H506.5 V19.5 H503.5 V15.5 H499.5 V12.5 H503.5 Z" fill="url(#gplus)" stroke="#079a10" stroke-width="1"/>
<polygon points="517,9 522.5,9 519.75,12" fill="#000"/>
<circle cx="541" cy="9.9" r="6.7" fill="#f4f7fb" stroke="url(#clockg)" stroke-width="2.4"/><path d="M540.3,5.8 L540.8,10.3 L543.6,10.3" fill="none" stroke="#222" stroke-width="1.1"/><rect x="539.8" y="13.3" width="2" height="0.8" fill="#7aa8e8"/>
<polygon points="555.8,9 561.3,9 558.55,12" fill="#000"/>
<rect x="572.5" y="3.5" width="15.5" height="13" fill="#fff" stroke="#2d6fbd" stroke-width="1.1"/><rect x="573" y="4" width="14.5" height="1.8" fill="#5a9ae0"/><rect x="573" y="11" width="14.5" height="0.9" fill="#5a8fd0"/><polyline points="574.5,9.4 576.5,9.4 578.5,8.4 580,7.6 581.5,8.6 583.5,8.6 585.5,7.6" fill="none" stroke="#a01a0a" stroke-width="0.9"/><polyline points="575.5,14.5 577.5,13.5 579.5,14.5 582,12.4 585.5,14.5" fill="none" stroke="#129a12" stroke-width="0.9"/>
<polygon points="594.8,9 600.3,9 597.55,12" fill="#000"/>
<path d="M624.3,3 L624.3,14 L626.8,11.6 L629,16.8 L630.7,16.2 L628.6,11 L632,10.7 Z" fill="#444"/>
<g fill="#3c3c3c" shape-rendering="crispEdges"><rect x="656" y="3" width="1" height="6"/><rect x="656" y="12" width="1" height="6"/><rect x="649" y="10" width="6" height="1"/><rect x="658" y="10" width="6" height="1"/><rect x="656" y="10" width="1" height="1" fill="#888"/></g>
<g fill="#444" shape-rendering="crispEdges"><rect x="690" y="4" width="1" height="13"/><rect x="713" y="10" width="12" height="1"/></g>
<line x1="741.3" y1="16.6" x2="752.8" y2="5" stroke="#555" stroke-width="1.1"/>
<g stroke="#444" stroke-width="1" fill="none"><line x1="766.5" y1="11.4" x2="774.7" y2="4"/><line x1="768" y1="15.6" x2="781.5" y2="8.3"/><line x1="771.8" y1="16.8" x2="780.5" y2="9.5"/><line x1="769.5" y1="16.5" x2="770.5" y2="9.5" stroke-width="1.3"/><line x1="772.3" y1="13.5" x2="773.3" y2="7.5" stroke-width="1.3"/><line x1="775.6" y1="12" x2="776.6" y2="5.8" stroke-width="1.3"/><line x1="778.4" y1="9" x2="778.6" y2="2" stroke-width="1.3"/></g>
<text x="777.6" y="18.8" font-family="'Liberation Sans', Arial, sans-serif" font-size="6.4" font-weight="bold" fill="#444">E</text>
<g fill="#444" shape-rendering="crispEdges">
<rect x="796" y="3" width="1" height="1"/>
<rect x="798" y="3" width="1" height="1"/>
<rect x="800" y="3" width="1" height="1"/>
<rect x="802" y="3" width="1" height="1"/>
<rect x="804" y="3" width="1" height="1"/>
<rect x="806" y="3" width="1" height="1"/>
<rect x="808" y="3" width="1" height="1"/>
<rect x="796" y="6" width="1" height="1"/>
<rect x="798" y="6" width="1" height="1"/>
<rect x="800" y="6" width="1" height="1"/>
<rect x="802" y="6" width="1" height="1"/>
<rect x="804" y="6" width="1" height="1"/>
<rect x="806" y="6" width="1" height="1"/>
<rect x="808" y="6" width="1" height="1"/>
<rect x="796" y="10" width="1" height="1"/>
<rect x="798" y="10" width="1" height="1"/>
<rect x="800" y="10" width="1" height="1"/>
<rect x="802" y="10" width="1" height="1"/>
<rect x="804" y="10" width="1" height="1"/>
<rect x="806" y="10" width="1" height="1"/>
<rect x="808" y="10" width="1" height="1"/>
<rect x="796" y="14" width="1" height="1"/>
<rect x="798" y="14" width="1" height="1"/>
<rect x="800" y="14" width="1" height="1"/>
<rect x="802" y="14" width="1" height="1"/>
<rect x="804" y="14" width="1" height="1"/>
</g>
<text x="805.8" y="19" font-family="'Liberation Sans', Arial, sans-serif" font-size="6.6" font-weight="bold" fill="#444">F</text>
<text x="826.8" y="15" font-family="'Liberation Sans', Arial, sans-serif" font-size="12.2" font-weight="bold" fill="#4a4a4a">A</text>
<g fill="#444" shape-rendering="crispEdges">
<rect x="854" y="4" width="1" height="1"/><rect x="853" y="16" width="1" height="1"/>
<rect x="856" y="4" width="1" height="1"/><rect x="855" y="16" width="1" height="1"/>
<rect x="858" y="4" width="1" height="1"/><rect x="857" y="16" width="1" height="1"/>
<rect x="860" y="4" width="1" height="1"/><rect x="859" y="16" width="1" height="1"/>
<rect x="862" y="4" width="1" height="1"/><rect x="861" y="16" width="1" height="1"/>
<rect x="864" y="4" width="1" height="1"/><rect x="863" y="16" width="1" height="1"/>
<rect x="853" y="6" width="1" height="1"/><rect x="864" y="6" width="1" height="1"/>
<rect x="853" y="8" width="1" height="1"/><rect x="864" y="8" width="1" height="1"/>
<rect x="853" y="10" width="1" height="1"/><rect x="864" y="10" width="1" height="1"/>
<rect x="853" y="12" width="1" height="1"/><rect x="864" y="12" width="1" height="1"/>
<rect x="853" y="14" width="1" height="1"/><rect x="864" y="14" width="1" height="1"/>
<rect x="853" y="16" width="1" height="1"/><rect x="864" y="16" width="1" height="1"/>
<rect x="852" y="3" width="2" height="2"/><rect x="855" y="7" width="8" height="1"/><rect x="858" y="7" width="2" height="8"/>
</g>
<g fill="#444"><polygon points="883.3,3.8 880,7.9 886.6,7.9"/><polygon points="887.2,13.1 893.9,13.1 890.5,16.9"/></g><polyline points="882.2,11.1 884.3,13.6 888.6,8.4" fill="none" stroke="#444" stroke-width="1.1"/>
<polygon points="901,9 906.5,9 903.75,12" fill="#000"/>
<g font-family="'Liberation Sans', Arial, sans-serif" font-size="10" fill="#262626" letter-spacing="0.5">
<text x="927.6" y="14">M1</text>
<text x="955.6" y="14">M5</text>
<text x="981.2" y="14">M15</text>
<text x="1009.2" y="14">M30</text>
<text x="1040.2" y="14">H1</text>
<text x="1067.2" y="14">H4</text>
<text x="1096.2" y="14">D1</text>
<text x="1124" y="14">W1</text>
<text x="1150.2" y="14">MN</text>
</g>
<line x1="1641.4" y1="11.2" x2="1636.3" y2="15.2" stroke="#2456c8" stroke-width="2.4" stroke-linecap="round"/><circle cx="1643.5" cy="7.4" r="3.9" fill="#f6f8ff" stroke="#2a64d8" stroke-width="1.3"/>
<ellipse cx="1666" cy="12.6" rx="5.6" ry="4.8" fill="#e4e6ee" stroke="#b4b4b4" stroke-width="0.9"/><polygon points="1662.5,16.2 1663.3,18.8 1665.5,16.8" fill="#c8c8c8"/><circle cx="1674.8" cy="7.5" r="8.3" fill="url(#badge)"/>
<text x="1674.4" y="12.2" font-family="'Liberation Serif', serif" font-size="12.5" font-weight="bold" fill="#fff" text-anchor="middle">1</text>
</svg>
</body></html>
